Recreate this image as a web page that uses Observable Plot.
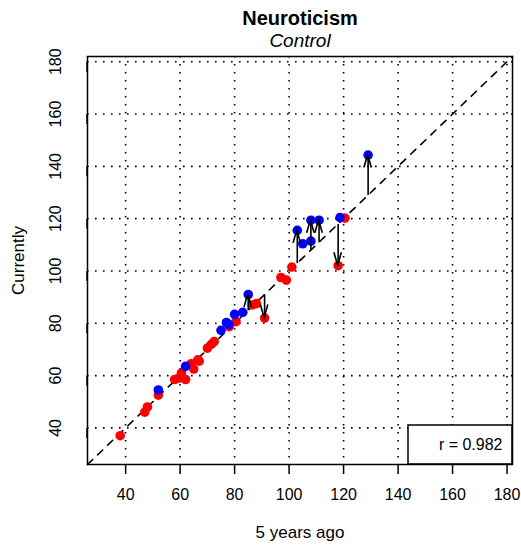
<!DOCTYPE html>
<html><head><meta charset="utf-8">
<script src="https://cdn.jsdelivr.net/npm/d3@7"></script>
<script src="https://cdn.jsdelivr.net/npm/@observablehq/plot@0.6"></script>
<style>html,body{margin:0;padding:0;background:#fff;}</style>
</head><body><div id="chart"></div>
<script>
const title = "Neuroticism";
const subtitle = "Control";
const xLabel = "5 years ago";
const yLabel = "Currently";
const legendText = "r = 0.982";
const ticks = [40, 60, 80, 100, 120, 140, 160, 180];
const axisDomain = [26, 182];

const redX = [38, 47, 48, 52, 58, 59.5, 60.5, 62, 64, 65, 66.5, 67, 70, 71.5, 72.5, 78, 80.5, 86.5, 88, 91, 97, 99, 101, 118, 120.5];
const redY = [37, 46, 48, 52.5, 58.5, 59, 61, 58.5, 64.5, 62.5, 66, 65.5, 70.5, 72, 73, 78.7, 80.6, 87, 87.5, 82, 97.5, 96.5, 101.5, 102, 120.2];

const blueX = [52, 62, 75, 77, 78, 80, 83, 85, 103, 105, 108, 108, 111, 118.7, 129];
const blueY = [54.5, 63.5, 77.3, 80.3, 79.5, 83.4, 84.2, 91, 115.5, 110.4, 111.4, 119.4, 119.4, 120.4, 144.3];

const arrowX = [85, 91, 103, 108, 111, 118, 129];
const arrowFrom = [85, 91, 103, 108, 111, 118, 129];
const arrowTo = [91, 82, 115.5, 119.4, 119.4, 102, 144.3];

const red = redX.map((x, i) => ({x, y: redY[i]}));
const blue = blueX.map((x, i) => ({x, y: blueY[i]}));
const arrows = arrowX.map((x, i) => ({x, from: arrowFrom[i], to: arrowTo[i]}));

function arrowHeads(...args) {
  const scales = args.find(a => a && typeof a.x === "function" && typeof a.y === "function");
  const g = d3.create("svg:g").attr("stroke", "black").attr("stroke-width", 1.6).attr("fill", "none");
  const L = 13.5, A = 16 * Math.PI / 180;
  arrows.forEach(d => {
    const tx = scales.x(d.x), ty = scales.y(d.to), fy = scales.y(d.from);
    const s = Math.sign(fy - ty);
    const wx = L * Math.sin(A), wy = L * Math.cos(A) * s;
    g.append("path").attr("d", `M${tx - wx},${ty + wy}L${tx},${ty}L${tx + wx},${ty + wy}`);
  });
  return g.node();
}

function legendBox(...args) {
  const dims = args.find(a => a && typeof a.width === "number" && "marginRight" in a);
  const right = dims.width - dims.marginRight;
  const bottom = dims.height - dims.marginBottom;
  const w = 104, h = 39;
  const g = d3.create("svg:g");
  g.append("rect").attr("x", right - w).attr("y", bottom - h).attr("width", w).attr("height", h)
    .attr("fill", "white").attr("stroke", "black").attr("stroke-width", 1.5);
  g.append("text").attr("x", right - 9.5).attr("y", bottom - 14).attr("text-anchor", "end")
    .attr("font-size", 16).attr("fill", "black").text(legendText);
  return g.node();
}

const chart = Plot.plot({
  width: 521,
  height: 546,
  marginLeft: 87,
  marginRight: 9,
  marginTop: 56,
  marginBottom: 82,
  style: {fontFamily: "'Liberation Sans', Arial, Helvetica, sans-serif", fontSize: "16px", background: "white", color: "black"},
  x: {domain: axisDomain, axis: null},
  y: {domain: axisDomain, axis: null},
  marks: [
    Plot.gridX(ticks, {stroke: "black", strokeOpacity: 1, strokeWidth: 1.6, strokeDasharray: "1.6,6.4"}),
    Plot.gridY(ticks, {stroke: "black", strokeOpacity: 1, strokeWidth: 1.6, strokeDasharray: "1.6,6.4"}),
    Plot.line(axisDomain, {x: d => d, y: d => d, stroke: "black", strokeWidth: 1.6, strokeDasharray: "7,7"}),
    Plot.dot(red, {x: "x", y: "y", r: 4.8, fill: "#ff0000", stroke: null}),
    Plot.dot(blue, {x: "x", y: "y", r: 4.8, fill: "#0000ff", stroke: null}),
    Plot.link(arrows, {x1: "x", y1: "from", x2: "x", y2: "to", stroke: "black", strokeWidth: 1.6}),
    arrowHeads,
    legendBox,
    Plot.frame({stroke: "black", strokeWidth: 1.5}),
    Plot.axisX({ticks, tickSize: 10, tickPadding: 14, label: null, strokeWidth: 1.5, fontSize: 16}),
    Plot.axisY({ticks, tickSize: 10, tickPadding: 17, label: null, strokeWidth: 1.5, fontSize: 16, rotate: -90, textAnchor: "middle", lineAnchor: "bottom"}),
    Plot.text([title], {text: d => d, frameAnchor: "top", dy: -32, lineAnchor: "bottom", fontSize: 20, fontWeight: "bold"}),
    Plot.text([subtitle], {text: d => d, frameAnchor: "top", dy: -10, lineAnchor: "bottom", fontSize: 19, fontStyle: "italic"}),
    Plot.text([xLabel], {text: d => d, frameAnchor: "bottom", dy: 73, lineAnchor: "bottom", fontSize: 17}),
    Plot.text([yLabel], {text: d => d, frameAnchor: "left", dx: -64, rotate: -90, textAnchor: "middle", lineAnchor: "bottom", fontSize: 17})
  ]
});
document.getElementById("chart").appendChild(chart);
</script>
</body></html>
